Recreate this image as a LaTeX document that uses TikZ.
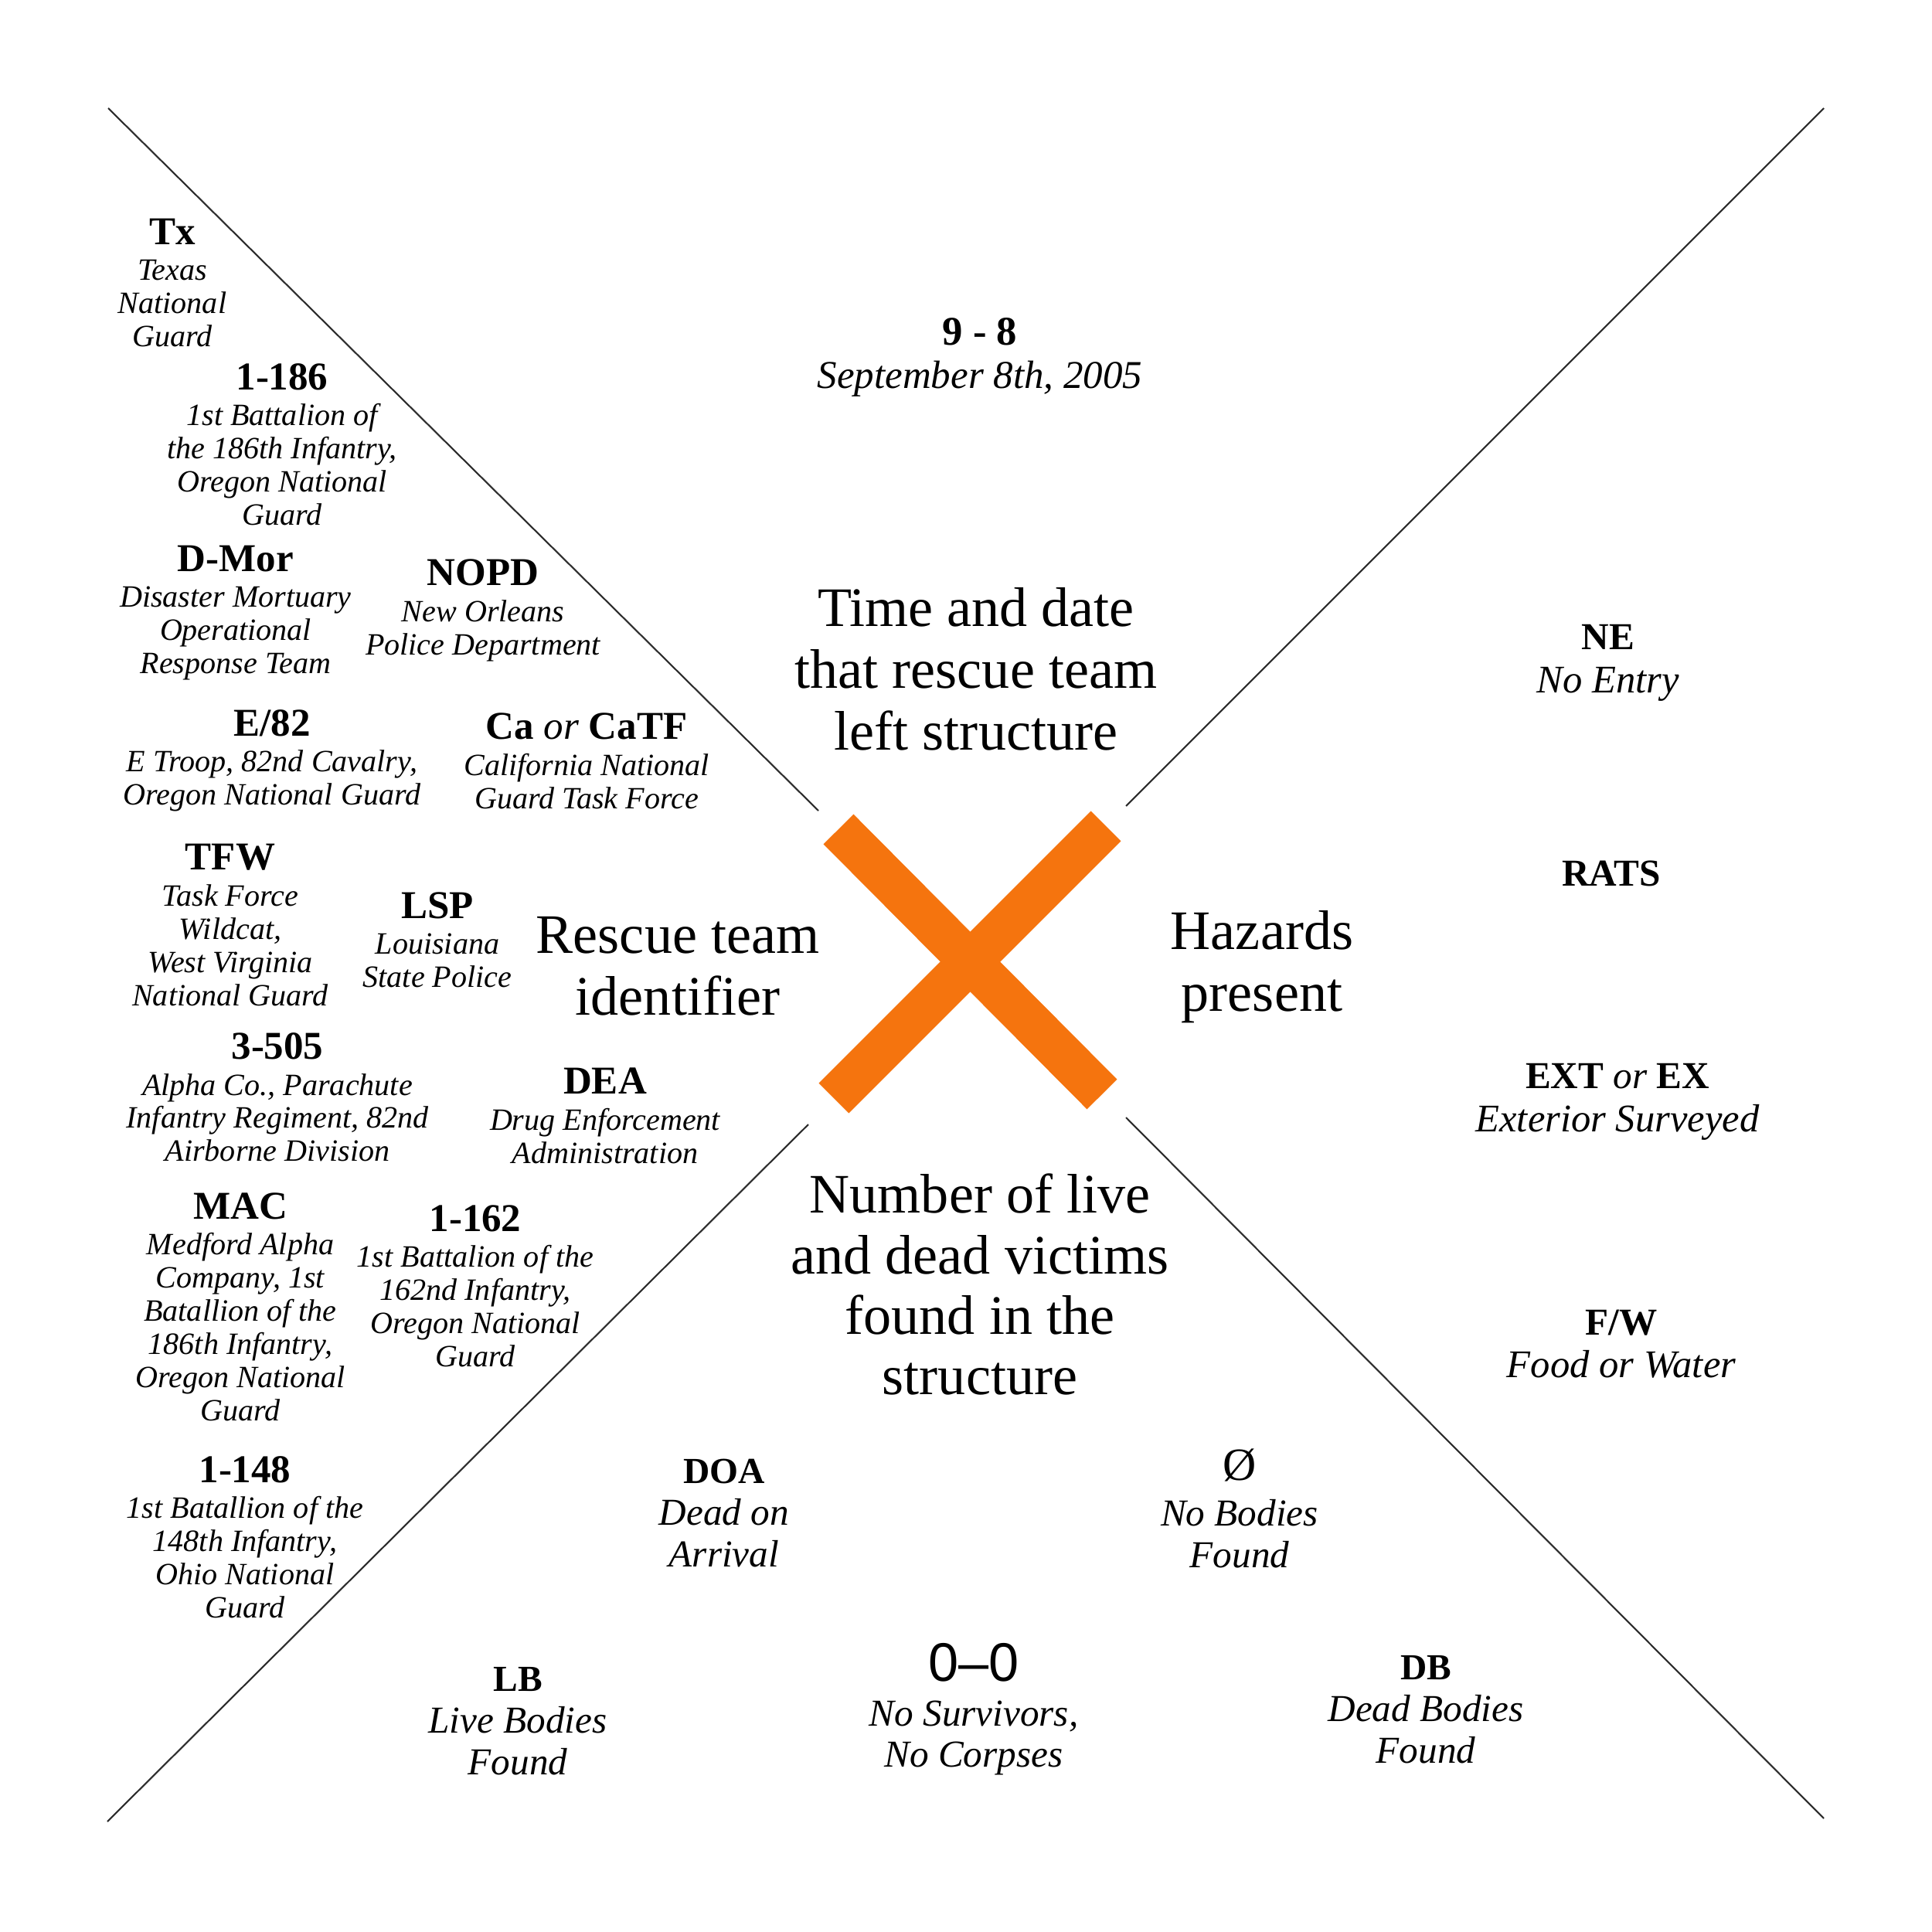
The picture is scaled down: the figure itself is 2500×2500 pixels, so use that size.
\documentclass[tikz,border=0pt]{standalone}
\usepackage{fontspec}
\setmainfont{Liberation Serif}
\newfontfamily\zerofont{Liberation Sans}
\definecolor{xorange}{RGB}{245,116,14}
\definecolor{divgray}{RGB}{45,45,45}
\newcommand\hdL[1]{{\fontsize{14.5}{12.2}\selectfont\bfseries\upshape #1}}
\newcommand\hdR[1]{{\fontsize{14}{15.8}\selectfont\bfseries\upshape #1}}
\newcommand\hdB[1]{{\fontsize{13.5}{15.3}\selectfont\bfseries\upshape #1}}
\newcommand\orit{{\mdseries\itshape or}}
\begin{document}
\begin{tikzpicture}[x=0.01cm,y=-0.01cm,
  divider/.style={line width=0.6pt, draw=divgray},
  xbar/.style={line width=15.6pt, draw=xorange, line cap=butt},
  big/.style={align=center, inner sep=0pt, font=\fontsize{20.5}{22.7}\selectfont},
  leftlab/.style={align=center, inner sep=0pt, font=\fontsize{11.4}{12.2}\selectfont\itshape},
  rightlab/.style={align=center, inner sep=0pt, font=\fontsize{14.4}{15.8}\selectfont\itshape},
  botlab/.style={align=center, inner sep=0pt, font=\fontsize{14}{15.3}\selectfont\itshape},
  datelab/.style={align=center, inner sep=0pt, font=\fontsize{14.5}{15.4}\selectfont\itshape},
]
\useasboundingbox[fill=white] (0,0) rectangle (2500,2500);

% dividing lines
\coordinate (tlA) at (140,140);   \coordinate (tlB) at (1059,1049);
\coordinate (trA) at (2360,140);  \coordinate (trB) at (1457,1043);
\coordinate (blA) at (1046,1455); \coordinate (blB) at (139,2357);
\coordinate (brA) at (1457,1446); \coordinate (brB) at (2360,2353);
\draw[divider] (tlA) -- (tlB);
\draw[divider] (trA) -- (trB);
\draw[divider] (blA) -- (blB);
\draw[divider] (brA) -- (brB);

% orange X
\coordinate (xa1) at (1085,1073); \coordinate (xa2) at (1426,1416);
\coordinate (xb1) at (1431,1069); \coordinate (xb2) at (1079,1421);
\draw[xbar] (xa1) -- (xa2);
\draw[xbar] (xb1) -- (xb2);

% top quadrant
\node[datelab] (date) at (1268,462) {{\fontsize{15}{15.4}\selectfont\bfseries\upshape 9 - 8}\\[0.5pt]September 8th, 2005};
\node[big] (timeq) at (1263,866) {Time and date\\that rescue team\\left structure};

% left quadrant
\node[leftlab] (tx) at (223,366) {\hdL{Tx}\\[1pt]Texas\\National\\Guard};
\node[leftlab] (b186) at (365,575) {\hdL{1-186}\\[1pt]1st Battalion of\\the 186th Infantry,\\Oregon National\\Guard};
\node[leftlab] (dmor) at (305,793) {\hdL{D-Mor}\\[1pt]Disaster Mortuary\\Operational\\Response Team};
\node[leftlab] (nopd) at (625,790) {\hdL{NOPD}\\[1pt]New Orleans\\Police Department};
\node[leftlab] (e82) at (352,984) {\hdL{E/82}\\[1pt]E Troop, 82nd Cavalry,\\Oregon National Guard};
\node[leftlab] (catf) at (759,985) {\hdL{Ca \orit{} CaTF}\\[1pt]California National\\Guard Task Force};
\node[leftlab] (tfw) at (298,1197) {\hdL{TFW}\\[1pt]Task Force\\Wildcat,\\West Virginia\\National Guard};
\node[leftlab] (lsp) at (566,1216) {\hdL{LSP}\\[1pt]Louisiana\\State Police};
\node[big] (rescue) at (877,1250) {Rescue team\\identifier};
\node[leftlab] (r505) at (359,1420) {\hdL{3-505}\\[1pt]Alpha Co., Parachute\\Infantry Regiment, 82nd\\Airborne Division};
\node[leftlab] (dea) at (783,1444) {\hdL{DEA}\\[1pt]Drug Enforcement\\Administration};
\node[leftlab] (mac) at (311,1691) {\hdL{MAC}\\[1pt]Medford Alpha\\Company, 1st\\Batallion of the\\186th Infantry,\\Oregon National\\Guard};
\node[leftlab] (b162) at (615,1664) {\hdL{1-162}\\[1pt]1st Battalion of the\\162nd Infantry,\\Oregon National\\Guard};
\node[leftlab] (b148) at (317,1989) {\hdL{1-148}\\[1pt]1st Batallion of the\\148th Infantry,\\Ohio National\\Guard};

% right quadrant
\node[big] (hazards) at (1633,1251) {Hazards\\present};
\node[rightlab] (ne) at (2081,858) {\hdR{NE}\\No Entry};
\node[rightlab] (rats) at (2085,1130) {\hdR{RATS}};
\node[rightlab] (ext) at (2093,1426) {\hdR{EXT \orit{} EX}\\Exterior Surveyed};
\node[rightlab] (fw) at (2098,1739) {\hdR{F/W}\\Food or Water};

% bottom quadrant
\node[big, font=\fontsize{20.5}{22.2}\selectfont] (victims) at (1268,1662) {Number of live\\and dead victims\\found in the\\structure};
\node[botlab] (doa) at (937,1958) {\hdB{DOA}\\Dead on\\Arrival};
\node[botlab] (nobod) at (1604,1952) {{\fontsize{17}{15.3}\selectfont\upshape Ø}\\[1.5pt]No Bodies\\Found};
\node[botlab] (lb) at (670,2227) {\hdB{LB}\\Live Bodies\\Found};
\node[botlab] (zz) at (1260,2212) {{\zerofont\fontsize{20}{15.3}\selectfont\upshape 0–0}\\[1pt]No Survivors,\\No Corpses};
\node[botlab] (db) at (1845,2212) {\hdB{DB}\\Dead Bodies\\Found};
\end{tikzpicture}
\end{document}
